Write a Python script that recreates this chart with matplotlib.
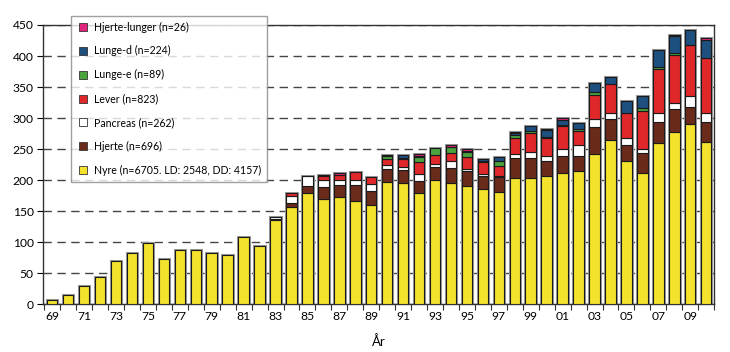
import numpy as np
import matplotlib
matplotlib.use("Agg")
import matplotlib.pyplot as plt
from matplotlib.lines import Line2D

plt.rcParams['font.family'] = ['Lato', 'DejaVu Sans']

# years 1969-2010
years = list(range(1969, 2011))

nyre = [7, 15, 30, 43, 70, 83, 98, 72, 87, 87, 83, 79, 109, 93, 135,
        156, 179, 169, 172, 167, 160, 197, 196, 179, 200, 196, 190, 186, 180,
        203, 204, 207, 211, 214, 242, 265, 230, 211, 260, 278, 291, 262]
hjerte = [0]*14 + [2.5, 7.5, 11, 20, 20, 25, 23, 21, 21, 20, 21, 24, 24, 21, 25,
                   32, 31, 24, 28, 25, 44, 33, 27, 32, 34, 36, 27, 32]
pancreas = [0]*14 + [3.5, 11, 16, 11, 8, 8, 11, 6, 4, 10, 5.5, 10, 4, 3, 1,
                     6.5, 10.5, 8, 11, 17.5, 12, 10.5, 11, 6.5, 14.5, 10, 17, 14.5]
lever = [0]*15 + [4.5, 1, 6, 8, 13.5, 11, 10, 13, 20, 14.5, 14, 19, 19, 17,
                  26, 30.5, 28.5, 36.5, 23, 39, 46, 40, 62, 70.5, 77, 83, 89]
lunge_e = [0]*21 + [5, 2, 8.5, 11, 9, 9, 1.5, 8,
                    5, 3, 2.5, 2.5, 2.5, 4.5, 0, 0, 4.5, 4, 4, 0.5, 0]
lunge_d = [0]*21 + [1, 4, 2, 0, 1, 1.5, 4, 5.5,
                    4, 7.5, 11, 8, 9.5, 14.5, 11, 19, 20, 26, 27, 23, 29]
hjerte_lunger = [0]*17 + [2, 3, 0, 0, 0, 0, 3, 0, 2, 2, 0, 0,
                          1.5, 0, 1.5, 2.5, 0, 0, 0, 0, 0, 0, 2.5, 0, 3]

series = [
    ("Nyre (n=6705. LD: 2548, DD: 4157)", nyre, "#f4e22c"),
    ("Hjerte (n=696)", hjerte, "#6a2b1b"),
    ("Pancreas (n=262)", pancreas, "#ffffff"),
    ("Lever (n=823)", lever, "#e0282a"),
    ("Lunge-e (n=89)", lunge_e, "#4ba33e"),
    ("Lunge-d (n=224)", lunge_d, "#1d4f7f"),
    ("Hjerte-lunger (n=26)", hjerte_lunger, "#e2257c"),
]

fig = plt.figure(figsize=(7.3, 3.52), dpi=100)
ax = fig.add_axes([0.0593, 0.136, 0.919, 0.793])

x = np.arange(len(years))
w = 0.66
total = np.zeros(len(years))
for name, vals, col in series:
    total += np.array(vals, dtype=float)

# gray halo around whole bar
ax.bar(x, total, width=w, color="none", edgecolor="#9a9a9a", linewidth=2.2, zorder=2)

bottom = np.zeros(len(years))
for name, vals, col in series:
    v = np.array(vals, dtype=float)
    m = v > 0
    ax.bar(x[m], v[m], width=w, bottom=bottom[m], color=col,
           edgecolor="#1a1a1a", linewidth=0.8, zorder=3)
    bottom += v

ax.set_ylim(0, 450)
ax.set_xlim(-0.56, 41.5)
ax.set_yticks(range(0, 451, 50))
ax.yaxis.grid(True, linestyle=(0, (6, 4)), color="#444444", linewidth=1.0)
ax.set_axisbelow(True)

# ticks at bar boundaries, labels at odd years
ax.set_xticks(np.arange(-0.5, 41.6, 1))
ax.set_xticklabels([])
ax.set_xticks(x[::2], minor=True)
ax.set_xticklabels([str(y)[2:] for y in years[::2]], minor=True)
ax.tick_params(axis="x", which="major", direction="out", length=4, width=0.8, color="#333")
ax.tick_params(axis="x", which="minor", length=0, pad=5, labelsize=8.7)
ax.tick_params(axis="y", direction="out", length=4, width=0.8, labelsize=8.7, pad=3)

for s in ax.spines.values():
    s.set_color("#333333")
    s.set_linewidth(1.0)

ax.set_xlabel("År", fontsize=9.5, labelpad=9)

handles = [Line2D([], [], marker="s", ls="", ms=5.5, mfc=col, mec="#333", mew=0.6)
           for name, vals, col in series][::-1]
labels = [name for name, vals, col in series][::-1]
leg = fig.legend(handles, labels, loc="upper left", bbox_to_anchor=(0.0968, 0.9554),
                 fontsize=7.6, frameon=True, fancybox=False, edgecolor="#888888",
                 labelspacing=1.22, handletextpad=0.35, handlelength=1.3,
                 borderpad=0.55, borderaxespad=0)
leg.get_frame().set_linewidth(1.0)

fig.savefig("out.png", dpi=100)
